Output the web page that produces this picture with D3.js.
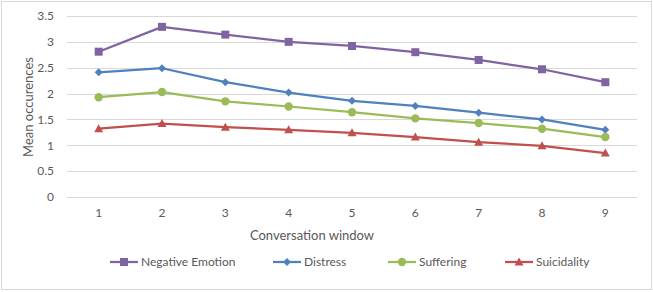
<!DOCTYPE html>
<html>
<head>
<meta charset="utf-8">
<script src="https://d3js.org/d3.v7.min.js"></script>
<style>
  body { margin: 0; background: #fff; }
  svg text { font-family: Lato, "Open Sans", sans-serif; fill: #595959; }
</style>
</head>
<body>
<div class="chart"></div>
<script>
// data
var windows = [1, 2, 3, 4, 5, 6, 7, 8, 9];
var negativeEmotion = [2.81, 3.29, 3.14, 3.00, 2.92, 2.80, 2.65, 2.47, 2.22];
var distress = [2.41, 2.49, 2.22, 2.02, 1.86, 1.76, 1.63, 1.50, 1.30];
var suffering = [1.93, 2.03, 1.85, 1.75, 1.64, 1.52, 1.43, 1.32, 1.16];
var suicidality = [1.32, 1.42, 1.35, 1.30, 1.24, 1.16, 1.06, 0.99, 0.85];
var yTicks = [0, 0.5, 1, 1.5, 2, 2.5, 3, 3.5];

var series = [
  {name: "Negative Emotion", values: negativeEmotion, color: "#8064A2", shape: "square"},
  {name: "Distress", values: distress, color: "#4F81BD", shape: "diamond"},
  {name: "Suffering", values: suffering, color: "#9BBB59", shape: "circle"},
  {name: "Suicidality", values: suicidality, color: "#C0504D", shape: "triangle"}
];

var width = 653, height = 292;
var margin = {top: 16, right: 16, bottom: 95, left: 67};

var svg = d3.select(".chart")
  .append("svg")
    .attr("width", width)
    .attr("height", height);

// outer chart border
svg.append("rect")
  .attr("x", 1.5).attr("y", 1.5)
  .attr("width", 650).attr("height", 288)
  .attr("fill", "#fff")
  .attr("stroke", "#D9D9D9");

var x = d3.scaleBand()
  .domain(windows)
  .range([margin.left, width - margin.right]);

var y = d3.scaleLinear()
  .domain([0, 3.5])
  .range([197, margin.top]);

// gridlines
svg.append("g")
  .selectAll("line")
  .data(yTicks)
  .join("line")
    .attr("x1", margin.left)
    .attr("x2", width - margin.right)
    .attr("y1", d => Math.round(y(d)) + 0.5)
    .attr("y2", d => Math.round(y(d)) + 0.5)
    .attr("stroke", "#D9D9D9")
    .attr("stroke-width", 1);

// y axis labels
var yAxis = svg.append("g")
  .attr("transform", "translate(" + margin.left + ",0)")
  .call(d3.axisLeft(y).tickValues(yTicks).tickSize(0).tickPadding(13).tickFormat(d3.format("")));
yAxis.select(".domain").remove();
yAxis.selectAll("text").attr("font-size", "12px").style("font-family", "Lato, sans-serif").attr("fill", "#595959");

// x axis labels
var xAxis = svg.append("g")
  .attr("transform", "translate(0," + 197 + ")")
  .call(d3.axisBottom(x).tickSize(0).tickPadding(11));
xAxis.select(".domain").remove();
xAxis.selectAll("text").attr("font-size", "12px").style("font-family", "Lato, sans-serif").attr("fill", "#595959");

// axis titles
svg.append("text")
  .attr("x", 312)
  .attr("y", 240)
  .attr("text-anchor", "middle")
  .attr("font-size", "13px")
  .text("Conversation window");

svg.append("text")
  .attr("transform", "translate(33," + 107 + ") rotate(-90)")
  .attr("text-anchor", "middle")
  .attr("font-size", "13px")
  .text("Mean occurences");

var cx = d => x(d) + x.bandwidth() / 2;

function marker(g, shape, color) {
  if (shape === "square") {
    g.append("rect").attr("x", -4).attr("y", -4).attr("width", 8).attr("height", 8).attr("fill", color);
  } else if (shape === "diamond") {
    g.append("path").attr("d", "M0,-4L4,0L0,4L-4,0Z").attr("fill", color);
  } else if (shape === "circle") {
    g.append("circle").attr("r", 4.2).attr("fill", color);
  } else {
    g.append("path").attr("d", "M0,-4.5L4.5,3.5L-4.5,3.5Z").attr("fill", color);
  }
}

var line = d3.line()
  .x((d, i) => cx(windows[i]))
  .y(d => y(d));

series.forEach(function(s) {
  svg.append("path")
    .datum(s.values)
    .attr("fill", "none")
    .attr("stroke", s.color)
    .attr("stroke-width", 2.25)
    .attr("stroke-linejoin", "round")
    .attr("d", line);

  s.values.forEach(function(v, i) {
    var g = svg.append("g").attr("transform", "translate(" + cx(windows[i]) + "," + y(v) + ")");
    marker(g, s.shape, s.color);
  });
});

// legend
var legendX = [110, 273, 388, 505];
series.forEach(function(s, i) {
  var g = svg.append("g").attr("transform", "translate(" + legendX[i] + ",262)");
  g.append("line").attr("x1", 0).attr("x2", 28).attr("stroke", s.color).attr("stroke-width", 2.25);
  var m = g.append("g").attr("transform", "translate(14,0)");
  marker(m, s.shape, s.color);
  g.append("text")
    .attr("x", 31)
    .attr("dy", "0.35em")
    .attr("font-size", "12px")
    .text(s.name);
});
</script>
</body>
</html>
